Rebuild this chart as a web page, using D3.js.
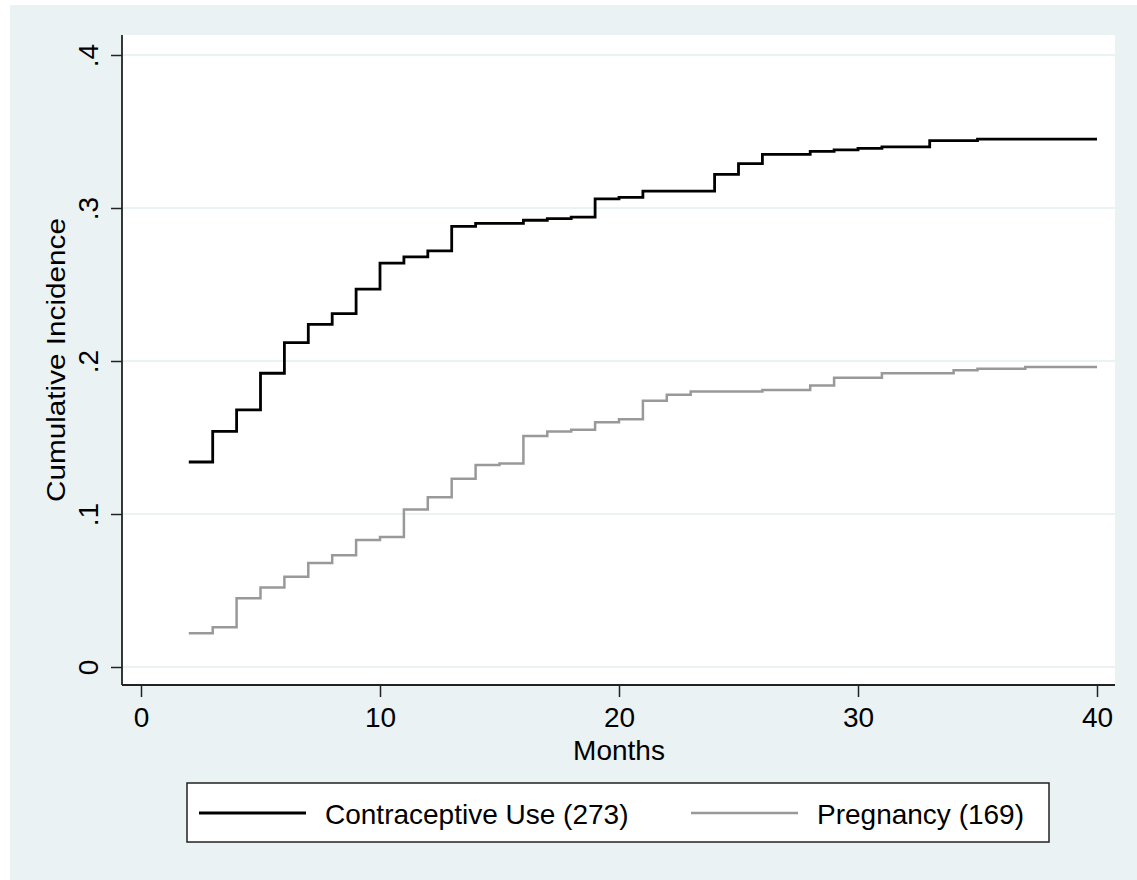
<!DOCTYPE html>
<html>
<head>
<meta charset="utf-8">
<title>Cumulative Incidence</title>
<script src="https://cdn.jsdelivr.net/npm/d3@7"></script>
<style>
    body { margin: 0; background: #fff; }
    svg { display: block; font-family: "Liberation Sans", Arial, Helvetica, sans-serif; }
</style>
</head>
<body>
<svg id="chart"></svg>
<script>
    // months 2..40
    let months = [2, 3, 4, 5, 6, 7, 8, 9, 10, 11, 12, 13, 14, 15, 16, 17, 18, 19, 20, 21,
        22, 23, 24, 25, 26, 27, 28, 29, 30, 31, 32, 33, 34, 35, 36, 37, 38, 39, 40];

    let contraceptive = [.134, .154, .168, .192, .212, .224, .231, .247, .264, .268, .272, .288,
        .290, .290, .292, .293, .294, .306, .307, .311, .311, .311, .322, .329, .335, .335,
        .337, .338, .339, .340, .340, .344, .344, .345, .345, .345, .345, .345, .345];

    let pregnancy = [.022, .026, .045, .052, .059, .068, .073, .083, .085, .103, .111, .123,
        .132, .133, .151, .154, .155, .160, .162, .174, .178, .180, .180, .180, .181, .181,
        .184, .189, .189, .192, .192, .192, .194, .195, .195, .196, .196, .196, .196];

    let xTicks = [0, 10, 20, 30, 40];
    let yTicks = [0, .1, .2, .3, .4];
    let seriesNames = ["Contraceptive Use (273)", "Pregnancy (169)"];
    let seriesColors = ["#000000", "#999999"];

    let W = 1137, H = 880;
    let svg = d3.select("#chart").attr("width", W).attr("height", H);

    // outer graph region
    svg.append("rect").attr("x", 10).attr("y", 5).attr("width", W - 10).attr("height", H - 5)
        .attr("fill", "#eaf2f3");

    let plot = { left: 122, top: 35, right: 1115, bottom: 685 };
    svg.append("rect")
        .attr("x", plot.left).attr("y", plot.top)
        .attr("width", plot.right - plot.left).attr("height", plot.bottom - plot.top)
        .attr("fill", "#fff");

    let x = d3.scaleLinear().domain([0, 40]).range([141, 1097]);
    let y = d3.scaleLinear().domain([0, .4]).range([667, 55]);

    // grid
    svg.append("g").selectAll("line")
        .data(yTicks)
        .enter()
        .append("line")
        .attr("x1", plot.left).attr("x2", plot.right)
        .attr("y1", d => y(d)).attr("y2", d => y(d))
        .attr("stroke", "#eaf2f3")
        .attr("stroke-width", 2);

    let fmt = d => d === 0 ? "0" : d3.format(".1f")(d).replace(/^0/, "");

    // y axis
    let gy = svg.append("g")
        .attr("transform", `translate(${plot.left},0)`)
        .call(d3.axisLeft(y).tickValues(yTicks).tickSize(11).tickFormat(fmt));
    gy.select(".domain").remove();
    gy.selectAll(".tick line").attr("stroke", "#222").attr("stroke-width", 1.5);
    gy.selectAll(".tick text")
        .attr("font-size", 28)
        .attr("fill", "#000")
        .attr("text-anchor", "middle")
        .attr("transform", "translate(-24,0) rotate(-90)")
        .attr("x", 0).attr("y", 0).attr("dy", 0);

    // x axis
    let gx = svg.append("g")
        .attr("transform", `translate(0,${plot.bottom})`)
        .call(d3.axisBottom(x).tickValues(xTicks).tickSize(12).tickFormat(d3.format("d")));
    gx.select(".domain").remove();
    gx.selectAll(".tick line").attr("stroke", "#222").attr("stroke-width", 1.5);
    gx.selectAll(".tick text")
        .attr("font-size", 28)
        .attr("fill", "#000")
        .attr("y", 42).attr("dy", 0);

    // axis lines
    svg.append("line")
        .attr("x1", plot.left).attr("x2", plot.left)
        .attr("y1", plot.top).attr("y2", plot.bottom)
        .attr("stroke", "#222").attr("stroke-width", 1.8);
    svg.append("line")
        .attr("x1", plot.left).attr("x2", plot.right)
        .attr("y1", plot.bottom).attr("y2", plot.bottom)
        .attr("stroke", "#222").attr("stroke-width", 1.8);

    // titles
    svg.append("text")
        .attr("x", (x(0) + x(40)) / 2).attr("y", 760)
        .attr("text-anchor", "middle")
        .attr("font-size", 28)
        .text("Months");

    svg.append("text")
        .attr("transform", "translate(65,360) rotate(-90)")
        .attr("text-anchor", "middle")
        .attr("font-size", 26)
        .attr("textLength", 284)
        .attr("lengthAdjust", "spacingAndGlyphs")
        .text("Cumulative Incidence");

    // step lines
    let line = d3.line()
        .x(d => x(d[0]))
        .y(d => y(d[1]))
        .curve(d3.curveStepAfter);

    let series = [contraceptive, pregnancy];
    svg.append("g").selectAll("path")
        .data(series)
        .enter()
        .append("path")
        .attr("d", s => line(months.map((m, i) => [m, s[i]])))
        .attr("fill", "none")
        .attr("stroke", (d, i) => seriesColors[i])
        .attr("stroke-width", (d, i) => i == 0 ? 2.8 : 2.5);

    // legend
    let leg = svg.append("g");
    leg.append("rect")
        .attr("x", 187).attr("y", 783).attr("width", 862).attr("height", 59)
        .attr("fill", "#fff").attr("stroke", "#222").attr("stroke-width", 1.5);

    let legX = [199, 691];
    seriesNames.forEach((name, i) => {
        leg.append("line")
            .attr("x1", legX[i]).attr("x2", legX[i] + 107)
            .attr("y1", 813).attr("y2", 813)
            .attr("stroke", seriesColors[i])
            .attr("stroke-width", i == 0 ? 2.8 : 2.5);
        leg.append("text")
            .attr("x", legX[i] + 126).attr("y", 824)
            .attr("font-size", 28)
            .text(name);
    });
</script>
</body>
</html>
